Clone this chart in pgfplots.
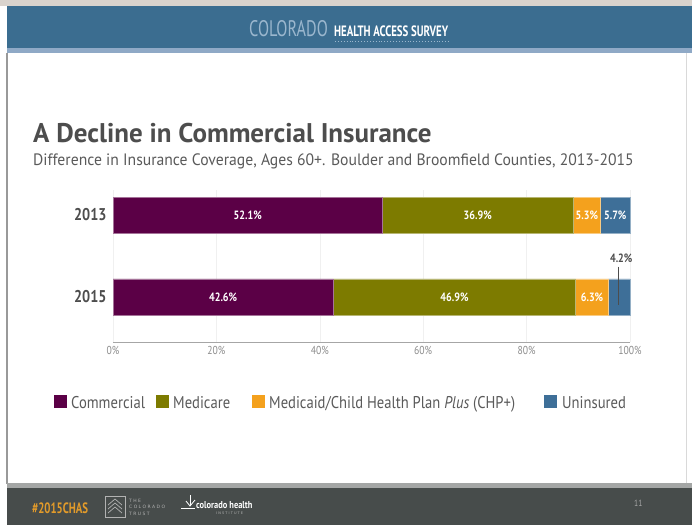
\documentclass[border=0pt]{standalone}
\usepackage{fontspec}
\setmainfont{PT Sans}[FakeStretch=0.84]
\newfontfamily\titlefont{PT Sans}
\newfontfamily\subfont{PT Sans}[FakeStretch=0.95]
\newfontfamily\legfont{PT Sans}[FakeStretch=0.86]
\newfontfamily\hdrfont{PT Sans}[FakeStretch=0.72]
\newfontfamily\tinyfont{DejaVu Sans}
\usepackage{pgfplots}
\pgfplotsset{compat=1.18}
\definecolor{comm}{HTML}{5B0046}
\definecolor{medi}{HTML}{7D7B00}
\definecolor{mcaid}{HTML}{F4A11D}
\definecolor{unins}{HTML}{3E6F98}
\definecolor{hdrblue}{HTML}{3B6D90}
\definecolor{hdrlight}{HTML}{8FA9C6}
\definecolor{hdrtext}{HTML}{9BB7CE}
\definecolor{topgray}{HTML}{D9D3CD}
\definecolor{footgray}{HTML}{474C4B}
\definecolor{footline}{HTML}{A4A6A5}
\definecolor{tagorange}{HTML}{E39B2A}
\definecolor{txtgray}{HTML}{4D4D4D}
\definecolor{subgray}{HTML}{5A5A5A}
\definecolor{tickgray}{HTML}{8C8C8C}
\begin{document}
\begin{tikzpicture}[x=1pt,y=1pt]
\path[use as bounding box] (0,0) rectangle (692,-525);
\fill[white] (0,0) rectangle (692,-525);
% header
\fill[topgray] (0,0) rectangle (692,-6);
\fill[hdrblue] (7,-6) rectangle (692,-48);
\fill[hdrlight] (7,-48) rectangle (692,-53);
\draw[gray!80, line width=1.2] (7,-53) -- (7,-484);
\draw[gray!30, line width=0.8] (686,-53) -- (686,-484);
\node[anchor=base west, inner sep=0, text=hdrtext, font=\hdrfont\fontsize{22.5}{23}\selectfont] at (249,-36) {COLORADO};
\node[anchor=base west, inner sep=0, text=white, font=\hdrfont\bfseries\fontsize{15}{15}\selectfont] at (334,-36) {HEALTH ACCESS SURVEY};
\draw[hdrtext, dotted, line width=0.9] (335,-41) -- (450,-41);
% title
\node[anchor=base west, inner sep=0, text=txtgray, font=\titlefont\bfseries\fontsize{27}{27}\selectfont] at (33,-142) {A Decline in Commercial Insurance};
\node[anchor=base west, inner sep=0, text=subgray, font=\subfont\fontsize{16.5}{17}\selectfont] at (33,-165) {Difference in Insurance Coverage, Ages 60+. Boulder and Broomfield Counties, 2013-2015};
% chart
\begin{axis}[
  at={(113pt,-342pt)}, anchor=south west, scale only axis,
  width=517pt, height=152pt,
  xmin=0, xmax=100, ymin=-0.549, ymax=1.305,
  xbar stacked, bar width=36pt,
  axis x line*=bottom, axis y line*=left,
  x axis line style={draw=gray!70, line width=0.6pt},
  y axis line style={draw=none},
  xtick={0,20,40,60,80,100},
  xticklabels={0\%,20\%,40\%,60\%,80\%,100\%},
  xtick style={draw=none}, ytick style={draw=none},
  xmajorgrids, major grid style={gray!12, line width=0.5pt},
  ytick={0,1}, yticklabels={2015,2013},
  /pgf/number format/assume math mode=true,
  xticklabel style={font=\fontsize{11.5}{12}\selectfont, text=tickgray, yshift=-1pt},
  yticklabel style={font=\bfseries\fontsize{17}{17}\selectfont, text=txtgray, xshift=-3pt},
  clip=false,
]
\addplot[fill=comm, draw=comm!55!white, line width=0.5pt] coordinates {(42.6,0) (52.1,1)};
\addplot[fill=medi, draw=medi!55!white, line width=0.5pt] coordinates {(46.9,0) (36.9,1)};
\addplot[fill=mcaid, draw=mcaid!55!white, line width=0.5pt] coordinates {(6.3,0) (5.3,1)};
\addplot[fill=unins, draw=unins!55!white, line width=0.5pt] coordinates {(4.2,0) (5.7,1)};
\end{axis}
\begin{axis}[
  at={(113pt,-342pt)}, anchor=south west, scale only axis,
  width=517pt, height=152pt,
  xmin=0, xmax=100, ymin=-0.549, ymax=1.305,
  hide axis, clip=false,
]
\addplot[draw=none, mark=none, nodes near coords, point meta=explicit symbolic,
  nodes near coords align=center,
  every node near coord/.append style={text=white, font=\bfseries\fontsize{12}{12}\selectfont, inner sep=0}]
  coordinates {(26.05,1) [52.1\%] (70.55,1) [36.9\%] (91.65,1) [5.3\%] (97.15,1) [5.7\%]
               (21.3,0) [42.6\%] (66.05,0) [46.9\%] (92.65,0) [6.3\%]};
\addplot[draw=none, mark=none, nodes near coords, point meta=explicit symbolic,
  nodes near coords align=center,
  every node near coord/.append style={text=txtgray, font=\bfseries\fontsize{12}{12}\selectfont, inner sep=0}]
  coordinates {(98.3,0.476) [4.2\%]};
\addplot[txtgray, line width=0.6pt, mark=none] coordinates {(97.8,0.37) (97.8,-0.1)};
\end{axis}
% legend
\begin{scope}[every node/.style={anchor=base west, inner sep=0, text=subgray, font=\legfont\fontsize{17}{17}\selectfont}]
\fill[comm] (54,-395) rectangle (67,-408);
\node at (71,-408) {Commercial};
\fill[medi] (156,-395) rectangle (169,-408);
\node at (173,-408) {Medicare};
\fill[mcaid] (252,-395) rectangle (265,-408);
\node at (269,-408) {Medicaid/Child Health Plan \textit{Plus} (CHP+)};
\fill[unins] (544,-395) rectangle (557,-408);
\node at (562,-408) {Uninsured};
\end{scope}
% footer
\fill[footline] (7,-483) rectangle (692,-488);
\fill[footgray] (7,-488) rectangle (692,-525);
\node[anchor=base west, inner sep=0, text=tagorange, font=\hdrfont\bfseries\fontsize{15}{15}\selectfont] at (32,-513) {\#2015CHAS};
\draw[gray!60, line width=0.8] (105,-496) rectangle (125,-517);
\draw[gray!60, line width=0.7] (108,-505) -- (115,-499) -- (122,-505);
\draw[gray!60, line width=0.7] (108,-509) -- (115,-503) -- (122,-509);
\draw[gray!60, line width=0.7] (108,-513) -- (115,-507) -- (122,-513);
\node[anchor=base west, inner sep=0, text=gray!60, font=\tinyfont\fontsize{4.5}{5}\selectfont] at (129,-502) {T H E};
\node[anchor=base west, inner sep=0, text=gray!60, font=\tinyfont\fontsize{4.5}{5}\selectfont] at (129,-508.5) {C O L O R A D O};
\node[anchor=base west, inner sep=0, text=gray!60, font=\tinyfont\fontsize{4.5}{5}\selectfont] at (129,-515) {T R U S T};
\draw[white, line width=0.8] (181,-508) -- (195,-508);
\draw[white, line width=0.8] (186,-501) -- (190,-506) -- (195,-500);
\draw[white, line width=0.8] (190,-506) -- (190,-495);
\node[anchor=base west, inner sep=0, text=white, font=\bfseries\fontsize{10}{10}\selectfont] at (196,-508) {colorado health};
\node[anchor=base west, inner sep=0, text=gray!60, font=\tinyfont\fontsize{3.5}{4}\selectfont] at (216,-514) {I N S T I T U T E};
\node[anchor=base west, inner sep=0, text=gray!70, font=\fontsize{9}{9}\selectfont] at (634,-506) {11};
\end{tikzpicture}
\end{document}
